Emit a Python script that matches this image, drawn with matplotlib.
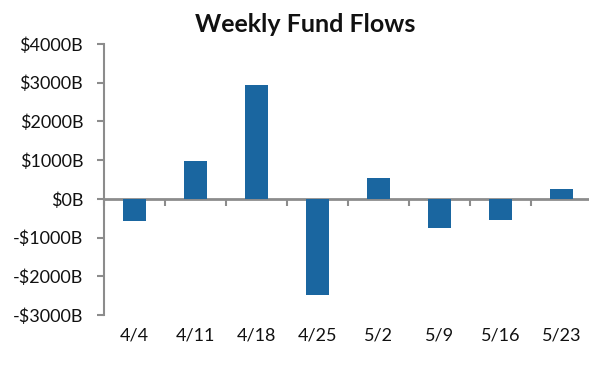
import matplotlib
matplotlib.use("Agg")
import matplotlib.pyplot as plt
import numpy as np
from matplotlib.ticker import NullFormatter

weeks = ["4/4", "4/11", "4/18", "4/25", "5/2", "5/9", "5/16", "5/23"]
flows = [-560, 990, 2950, -2475, 540, -750, -545, 250]
yticks = [-3000, -2000, -1000, 0, 1000, 2000, 3000, 4000]
ytick_labels = ["-$3000B", "-$2000B", "-$1000B", "$0B", "$1000B", "$2000B", "$3000B", "$4000B"]

plt.rcParams['font.family'] = ['Lato', 'DejaVu Sans']
gray = '#8c8c8c'
blue = '#1a66a0'

fig = plt.figure(figsize=(5.89, 3.75), dpi=100)
ax = fig.add_axes([104/589, 1-315/375, (592-104)/589, (315-44)/375])

x = np.arange(len(weeks))
ax.bar(x, flows, width=0.39, color=blue, zorder=2)

ax.set_xlim(-0.5, len(weeks) - 0.5)
ax.set_ylim(-3000, 4000)
ax.set_yticks(yticks)
ax.set_yticklabels(ytick_labels)

for s in ['top', 'right', 'bottom']:
    ax.spines[s].set_visible(False)
ax.spines['left'].set_color(gray)
ax.spines['left'].set_linewidth(1.5)
ax.tick_params(axis='y', direction='out', length=5, width=1.5, color=gray,
               pad=10, labelsize=13, labelcolor='#111111')

ax.set_xticks(x)
ax.set_xticklabels(weeks)
ax.tick_params(axis='x', length=0, pad=9, labelsize=13, labelcolor='#111111')

sec = ax.secondary_xaxis(0, transform=ax.transData)
sec.spines['bottom'].set_color(gray)
sec.spines['bottom'].set_linewidth(2)
sec.set_xticks(np.arange(len(weeks) + 1) - 0.5)
sec.xaxis.set_major_formatter(NullFormatter())
sec.tick_params(axis='x', direction='out', length=5, width=1.5, color=gray)

fig.text(305/589, 1-25/375, "Weekly Fund Flows", ha='center', va='center',
         fontsize=18, fontweight='bold', color='#111111')

fig.savefig("out.png", dpi=100)
